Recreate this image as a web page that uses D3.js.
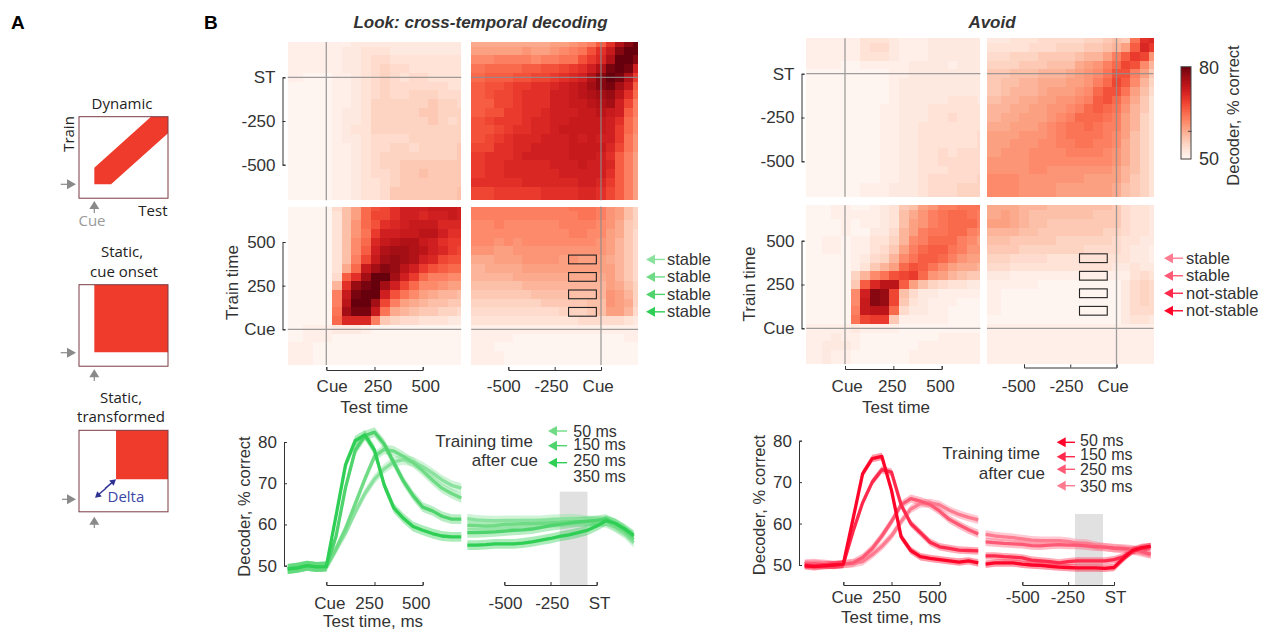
<!DOCTYPE html>
<html lang="en">
<head>
<meta charset="UTF-8">
<title>Cross-temporal decoding</title>
<style>
  body { margin: 0; background: #fff; }
  svg text { font-family: "Liberation Sans", Arial, sans-serif; fill: #333; }
  .tick text { font-size: 17px; }
  .schem text { font-family: "Open Sans", sans-serif; fill: #222; font-size: 15px; }
</style>
</head>
<body>
<script src="https://d3js.org/d3.v7.min.js"></script>
<script>
// cell edges in ms, relative to cue (test/train) or to ST
var testEdgesCue = [-200,-120,-70,-20,30,80,130,180,230,280,330,380,430,480,530,580,630,680,700];
var testEdgesST = [-700,-625,-575,-525,-475,-425,-375,-325,-275,-225,-175,-125,-75,-25,25,75,125,175,200];
var trainEdgesCue = [703,675,625,575,525,475,425,375,325,275,225,175,125,75,25,-25,-75,-125,-205];
var trainEdgesST = [202,175,125,75,25,-25,-75,-125,-175,-225,-275,-325,-375,-425,-475,-525,-575,-625,-703];

// decoder accuracy, % correct, rows from top to bottom
var lookSTCue = [
[51,51,51,51,51,51,52,52,52,52,52,52,52,52,52,52,52,52],
[51,51,51,51,51,52,52,53,53,53,52,52,52,52,52,52,52,52],
[51,51,51,51,51,52,52,53,54,54,53,53,53,53,53,53,53,53],
[51,51,51,51,51,52,52,53,54,55,54,54,53,53,53,53,53,53],
[51,50,50,50,51,51,52,53,54,55,54,53,54,54,53,53,53,53],
[50,50,50,50,51,51,52,53,54,55,54,54,54,54,54,54,53,53],
[50,50,50,50,51,51,52,53,54,55,54,54,55,55,55,54,54,54],
[50,50,50,50,51,51,52,53,55,55,55,55,55,55,56,55,55,54],
[50,50,50,50,51,52,52,53,55,55,55,55,55,56,56,55,55,55],
[50,50,50,50,51,52,52,53,55,55,55,55,55,55,56,55,54,55],
[50,50,50,50,51,52,53,53,55,55,55,55,55,55,55,55,55,55],
[50,50,50,50,51,52,52,53,54,54,54,54,55,55,55,55,55,55],
[50,50,50,50,51,51,52,53,54,54,55,55,54,55,55,55,55,56],
[50,50,50,50,51,51,52,53,54,55,55,55,55,55,55,55,55,56],
[50,50,50,50,51,51,52,53,54,55,55,56,56,56,56,56,56,56],
[50,50,50,50,51,51,52,53,54,54,55,56,56,57,56,56,56,56],
[50,50,50,50,51,51,52,53,53,54,55,56,56,56,56,56,56,56],
[50,50,50,50,51,51,52,53,53,54,56,56,56,56,56,56,56,57]];
var lookSTST = [
[59,59,59,59,59,59,59,59,60,60,61,62,63,66,70,75,78,80],
[60,60,60,60,60,61,60,60,61,62,63,64,67,70,73,78,80,80],
[62,62,63,63,63,63,62,63,63,64,64,67,69,71,75,80,80,78],
[64,65,65,65,65,66,66,67,67,68,69,70,72,75,79,80,79,72],
[65,66,66,66,67,67,68,68,69,70,71,72,75,78,80,79,75,69],
[66,67,67,68,69,69,70,70,71,72,73,74,76,78,79,76,73,66],
[66,67,68,68,69,70,70,70,72,72,73,74,75,76,77,74,70,65],
[66,66,68,68,69,70,70,70,72,72,73,73,74,75,76,72,68,63],
[66,67,67,69,69,70,70,71,72,72,72,73,73,74,73,72,66,63],
[67,68,69,69,69,70,71,71,72,72,73,73,73,73,72,70,65,62],
[67,67,68,69,70,70,71,71,72,73,73,73,73,73,72,69,65,62],
[67,68,69,70,71,71,71,72,72,72,73,72,73,72,72,69,64,61],
[68,68,70,70,71,71,72,72,72,72,73,73,73,73,71,68,64,61],
[69,70,70,70,71,72,72,72,72,72,73,73,73,72,70,66,63,60],
[69,70,70,71,71,71,71,71,72,72,72,73,72,72,71,66,63,60],
[69,70,70,71,71,71,71,71,71,72,72,72,72,72,70,66,63,60],
[70,70,70,70,70,71,71,71,71,71,71,72,72,71,69,66,63,60],
[68,68,69,69,69,69,69,70,70,70,70,71,71,70,68,66,63,60]];
var lookCueCue = [
[50,50,50,50,54,57,60,65,67,68,70,72,72,72,73,73,73,72],
[50,50,50,50,53,57,60,65,68,68,70,72,72,71,72,72,73,72],
[50,50,50,50,53,57,61,65,67,70,71,72,73,73,73,71,71,71],
[50,50,50,50,53,57,61,64,69,72,72,73,73,74,74,72,70,70],
[50,50,50,50,53,57,62,65,71,73,74,75,75,73,72,70,69,69],
[50,50,50,50,53,57,62,66,72,75,76,76,75,74,72,71,69,68],
[50,50,50,50,53,57,63,68,73,76,77,76,75,72,71,68,67,67],
[50,50,50,50,53,59,65,73,76,78,77,74,72,69,67,66,65,65],
[50,50,50,50,54,66,70,76,80,80,76,72,69,65,63,63,62,62],
[50,50,50,50,58,70,77,79,80,76,72,68,65,62,62,61,60,60],
[50,50,50,50,63,73,79,80,80,72,67,64,62,60,59,58,58,57],
[50,50,50,50,63,74,80,80,76,68,63,60,59,58,57,57,56,56],
[50,50,50,50,64,76,79,79,73,64,59,58,57,56,56,55,55,54],
[50,50,50,50,65,71,71,71,63,56,55,54,54,53,53,53,52,52],
[50,51,51,51,52,52,52,51,50,50,50,50,50,50,50,50,50,50],
[50,51,51,51,50,50,50,50,50,50,50,50,50,50,50,50,50,50],
[51,51,50,50,50,50,50,50,50,50,50,50,50,50,50,50,50,50],
[51,51,50,50,50,50,50,50,50,50,50,50,50,50,50,50,50,50]];
var lookCueST = [
[63,63,63,63,63,63,63,63,63,63,64,64,64,63,61,60,57,55],
[63,63,63,63,63,63,63,63,63,63,63,64,64,63,61,60,57,55],
[62,62,63,62,62,62,62,62,62,63,63,63,63,62,61,59,56,55],
[62,62,62,62,62,62,62,62,62,62,63,63,62,62,60,59,56,54],
[62,62,61,62,61,62,62,62,62,62,62,62,62,61,60,58,56,54],
[61,61,60,60,61,61,61,61,61,61,61,61,61,61,60,58,56,54],
[59,59,60,60,60,61,61,61,61,60,61,60,60,60,59,58,56,54],
[58,59,59,59,59,60,60,60,60,60,60,60,60,60,60,58,56,54],
[58,58,58,58,59,59,59,59,59,59,59,59,59,59,60,58,56,54],
[57,57,57,57,57,58,58,58,58,58,58,58,58,58,60,59,57,55],
[56,56,56,56,56,56,57,57,57,57,57,57,57,58,61,60,58,55],
[55,55,55,55,55,55,55,56,56,56,56,56,57,57,61,60,59,55],
[54,54,54,54,54,54,54,54,54,55,55,55,56,57,60,60,58,54],
[53,53,53,53,53,53,53,53,53,53,53,54,54,54,54,54,53,52],
[51,51,51,51,51,51,51,51,51,51,51,51,51,51,51,51,51,51],
[51,51,51,51,50,50,50,50,50,50,50,50,50,50,50,50,51,51],
[51,51,50,50,50,50,50,50,50,50,50,50,50,50,50,50,50,50],
[51,51,51,50,50,50,50,50,50,50,50,50,50,50,50,50,50,50]];
var avoidSTCue = [
[51,51,51,51,51,53,53,53,52,51,51,51,52,52,52,52,52,52],
[51,51,51,51,51,53,54,54,52,51,51,51,52,52,52,52,52,52],
[51,51,51,51,51,53,53,53,52,51,51,51,52,52,52,52,52,52],
[51,51,51,50,50,51,51,51,51,51,52,52,52,52,51,52,52,52],
[50,50,50,50,50,50,50,50,51,51,52,52,52,52,52,52,52,52],
[50,50,50,50,50,50,50,50,51,52,52,52,52,52,52,52,52,52],
[50,50,50,50,50,50,50,50,51,52,52,52,52,52,52,52,52,52],
[50,50,50,50,50,50,50,50,51,52,52,52,52,52,53,53,53,52],
[50,50,50,50,50,50,50,51,51,52,52,52,53,53,53,53,53,53],
[50,50,50,50,50,50,50,51,51,52,52,52,53,53,54,53,53,53],
[50,50,50,50,50,50,50,51,51,52,52,53,53,53,53,53,53,53],
[50,50,50,50,50,50,50,51,51,52,52,53,53,53,53,53,53,54],
[50,50,50,50,50,50,50,51,51,52,52,53,53,53,53,53,53,54],
[50,50,50,50,50,50,50,51,51,52,52,53,53,54,53,54,54,54],
[50,50,50,50,50,50,50,51,51,52,52,53,53,54,54,54,54,54],
[50,50,50,50,50,50,50,51,51,52,52,53,53,53,54,54,54,54],
[50,50,50,50,50,50,50,51,51,52,52,53,54,54,54,54,54,55],
[50,50,50,50,50,51,51,51,52,52,52,53,54,54,54,55,55,55]];
var avoidSTST = [
[52,52,53,53,53,54,54,54,54,54,55,55,56,57,56,64,70,71],
[53,53,53,53,54,54,54,55,55,55,56,56,57,58,60,66,71,69],
[54,54,55,55,55,56,56,56,56,57,58,58,60,63,66,69,68,61],
[55,55,55,56,56,56,57,57,57,59,60,61,63,65,68,67,62,58],
[56,56,57,57,57,58,58,58,59,60,61,62,64,67,67,63,60,56],
[56,57,57,58,58,59,59,59,60,60,61,63,65,68,66,62,58,55],
[56,57,58,58,58,59,60,60,60,61,62,65,67,67,64,60,57,54],
[57,58,58,59,59,60,60,61,61,62,63,66,67,65,62,59,56,53],
[58,58,59,59,60,60,61,61,62,63,65,66,65,64,61,58,56,53],
[58,59,59,60,60,60,61,62,63,65,65,65,64,63,60,58,55,53],
[59,59,60,60,60,61,62,63,64,64,65,64,63,63,60,58,55,53],
[60,60,60,61,61,61,62,63,64,64,64,64,63,62,60,57,55,53],
[60,60,61,61,61,62,62,63,63,64,64,63,63,62,59,57,55,53],
[60,61,61,61,62,62,62,62,63,63,63,63,62,61,59,57,55,53],
[61,61,61,61,62,62,62,62,62,62,62,62,62,61,59,57,55,53],
[61,61,61,61,62,62,61,61,61,61,61,61,61,60,58,57,55,53],
[62,62,62,61,61,61,61,61,61,61,60,60,60,60,58,56,55,53],
[62,62,62,61,61,61,61,60,60,60,60,60,60,59,57,56,55,53]];
var avoidCueCue = [
[50,50,51,51,50,50,51,52,53,56,57,60,61,63,63,64,64,64],
[50,50,51,51,51,51,51,52,53,57,59,61,63,64,65,65,64,63],
[50,50,50,51,50,51,51,52,53,57,60,61,63,64,65,65,65,63],
[50,50,50,51,50,50,52,52,54,58,60,63,64,64,65,65,63,62],
[50,51,51,50,51,51,53,53,55,58,62,63,65,65,65,63,62,60],
[50,51,51,50,51,51,53,54,56,60,63,65,66,66,64,63,61,61],
[50,50,50,50,51,52,54,55,58,62,64,66,66,65,63,61,60,60],
[50,50,50,50,51,53,56,58,60,65,67,66,64,62,60,59,59,58],
[50,50,50,50,55,58,62,64,67,68,69,65,61,60,58,57,56,56],
[50,50,50,50,56,66,71,74,74,66,60,57,55,54,53,53,52,52],
[50,50,50,50,62,72,78,77,68,57,54,52,52,51,51,51,51,51],
[50,50,50,50,62,73,78,77,68,56,53,52,51,51,51,50,50,50],
[50,50,50,50,63,73,74,74,65,54,52,52,51,51,50,50,50,50],
[50,50,50,50,64,68,69,69,56,51,51,51,51,51,50,50,50,50],
[51,51,51,51,52,51,51,51,51,50,50,50,50,50,50,50,50,50],
[51,51,52,51,51,50,50,50,50,50,50,50,50,51,51,51,51,51],
[51,52,52,52,51,50,50,50,50,50,50,51,51,51,51,51,51,51],
[51,52,51,51,50,50,50,50,50,50,51,51,51,51,51,51,51,51]];
var avoidCueST = [
[59,59,59,58,58,58,57,57,57,57,57,57,57,56,54,53,53,52],
[59,60,59,58,57,57,57,57,57,57,57,56,56,56,54,53,53,52],
[60,60,59,58,57,57,56,56,56,56,56,56,56,56,54,53,53,52],
[58,58,58,57,57,56,56,56,56,56,56,56,55,55,54,53,53,52],
[57,57,56,56,56,56,56,55,55,55,55,55,55,54,53,53,52,52],
[56,56,56,55,55,55,55,55,55,55,54,54,54,54,53,52,52,51],
[55,55,54,54,54,54,53,53,53,53,53,53,53,53,53,52,52,51],
[54,54,53,53,53,53,53,53,53,53,53,53,53,52,52,53,52,52],
[52,52,51,51,51,51,51,51,51,51,51,51,51,51,51,53,54,53],
[51,51,51,51,51,50,50,50,50,50,50,50,50,50,52,54,55,54],
[51,50,50,50,50,50,50,50,50,50,50,50,50,50,52,54,55,54],
[51,50,50,50,50,50,50,50,50,50,50,50,50,50,52,54,55,54],
[51,50,50,50,50,50,50,50,50,50,50,50,50,50,52,54,54,54],
[50,50,50,50,50,50,50,50,50,50,50,50,50,50,52,53,53,52],
[51,51,51,51,51,51,51,51,51,51,51,51,51,51,51,51,51,51],
[51,51,51,51,51,51,51,51,51,51,51,51,51,51,51,51,51,51],
[51,51,51,51,51,51,51,51,51,51,51,51,51,51,51,51,51,51],
[51,51,51,51,51,51,51,51,51,51,51,51,51,51,51,51,51,51]];

// time courses
var timesCue = [-200,-150,-100,-50,0,50,100,150,200,250,300,350,400,450,500,550,600,650,700];
var timesST = [-700,-650,-600,-550,-500,-450,-400,-350,-300,-250,-200,-150,-100,-50,0,50,100,150,200];

var lookCurvesCue = [
[49.2,49.5,50,49.7,49.8,62,74.5,80.3,81.7,78,69.6,64,61.5,59.5,58.6,57.8,57.2,57,57],
[49.2,49.5,50,49.7,49.8,57,69,78,81.5,82.4,79.5,75,70.5,67,64.2,63.3,62,61.3,61.3],
[49.2,49.5,50,49.7,49.8,54,59,65,71,76.5,78.2,77.8,76.5,75,73,70.8,68.8,67.5,66.4],
[49.2,49.5,50,49.7,49.8,54,58,63,67.5,71,73.5,75.2,75.7,75.2,74,72.5,70.8,69.5,68.8]];
var lookCurvesST = [
[55,55,55.1,55.3,55.3,55.3,55.5,55.8,56.2,56.6,57.1,57.5,58,58.6,59.6,60.9,60.3,59,57.4],
[58,58,58.1,58.2,58.4,58.6,58.7,58.9,59.3,59.7,60,60.3,60.6,60.8,61,61.3,60.2,58.8,57],
[59.8,59.7,59.6,59.7,60,60.1,60.2,60.2,60.3,60.4,60.5,60.7,60.7,60.7,60.7,60.8,59.5,58.3,56.3],
[61.4,61.1,61,60.9,61,61,61,61,61,61.2,61.3,61.4,61.3,61,60.8,60.4,59.3,57.8,55.6]];
var avoidCurvesCue = [
[49.8,49.6,49.8,50,50.2,61,72,75.7,76.2,68,56.8,53.5,52,51.6,51.3,51,50.7,51,50.5],
[50,49.8,50,50,50.2,58,65,70,73,72.4,64.5,60,57.8,55.5,54.4,54,53.6,53.5,53.4],
[50.2,50.3,50.1,50,50.2,50.5,51.8,54,57,60.5,64.5,66,65.4,64.6,63,61,59.7,58.5,57.5],
[50.4,50.5,50.3,50,50.2,50.4,50.8,52.5,54.5,57,60.5,63.5,64.8,65,64.5,63.2,62.2,61.5,60.9]];
var avoidCurvesST = [
[50.2,50.5,50.5,50.5,50.2,50,49.9,49.7,49.5,49.4,49.3,49.3,49.3,49.2,49.4,51.5,53.5,54.2,54.5],
[52.2,52.2,52,51.9,51.7,51.2,51,50.8,50.5,50.8,51,51,51,51,51.3,52,53.3,54,54.5],
[55.6,55.4,55.2,55.1,55,54.7,54.6,54.8,54.9,54.8,54.8,54.6,54.4,54.3,54.1,54,53.8,53.3,52.6],
[57.4,57,56.8,56.6,56.3,56,55.9,55.9,55.9,55.7,55.3,55.2,54.7,54.3,54,53.8,53.5,53,52.5]];
var lookSem = [1.2, 1.2, 1.2, 1.2];
var avoidSem = [0.9, 0.9, 1, 1];

var lookColors = ["#2fcf55", "#4fd46d", "#6fdb85", "#8be29e"];
var avoidColors = ["#ff0529", "#ff2a4c", "#ff5a75", "#ff7b90"];

var lookWindows = [400, 300, 200, 100];
var lookStates = ["stable", "stable", "stable", "stable"];
var avoidStates = ["stable", "stable", "not-stable", "not-stable"];
var legendMs = ["50 ms", "150 ms", "250 ms", "350 ms"];

var svg = d3.select("body").append("svg").attr("width", 1271).attr("height", 633)
  .style("display", "block");

var color = d3.scaleSequential(d3.interpolateReds).domain([50, 80]);

function heat(matrix, xs, ys, xEdges, yEdges) {
  var g = svg.append("g").attr("shape-rendering", "crispEdges");
  matrix.forEach(function(row, r) {
    row.forEach(function(v, c) {
      g.append("rect")
        .attr("x", xs(xEdges[c]))
        .attr("y", ys(yEdges[r]))
        .attr("width", xs(xEdges[c + 1]) - xs(xEdges[c]))
        .attr("height", ys(yEdges[r + 1]) - ys(yEdges[r]))
        .attr("fill", color(v));
    });
  });
  // reference lines at the alignment event
  g = svg.append("g").attr("stroke", "#8e8e8e").attr("stroke-width", 1.3).attr("opacity", 0.85);
  g.append("line").attr("x1", xs(0)).attr("x2", xs(0))
    .attr("y1", ys(yEdges[0])).attr("y2", ys(yEdges[yEdges.length - 1]));
  g.append("line").attr("y1", ys(0)).attr("y2", ys(0))
    .attr("x1", xs(xEdges[0])).attr("x2", xs(xEdges[xEdges.length - 1]));
}

function styleAxis(g) {
  g.selectAll(".domain").attr("stroke", "#333").attr("stroke-width", 1);
  g.selectAll(".tick line").attr("stroke", "#333");
  g.selectAll(".tick text").attr("fill", "#333");
  return g;
}

// labels sit a little off their ticks in the reference, hence the shifts
function xAxis(scale, y, vals, labels, pad, shifts) {
  var ax = d3.axisBottom(scale).tickValues(vals).tickSize(-3).tickSizeOuter(-3).tickPadding(pad)
    .tickFormat(function(d, i) { return labels[i]; });
  var g = styleAxis(svg.append("g").attr("transform", "translate(0," + y + ")").call(ax));
  g.selectAll(".tick text").attr("dx", function(d, i) { return shifts[i]; });
}

function yAxis(scale, x, vals, labels) {
  var ax = d3.axisLeft(scale).tickValues(vals).tickSize(-3).tickSizeOuter(-3).tickPadding(7)
    .tickFormat(function(d, i) { return labels[i]; });
  styleAxis(svg.append("g").attr("transform", "translate(" + x + ",0)").call(ax));
}

function label(x, y, txt, anchor, size) {
  return svg.append("text").attr("x", x).attr("y", y).attr("text-anchor", anchor || "middle")
    .attr("font-size", size || 17).text(txt);
}

function vlabel(x, y, txt, size) {
  return svg.append("text").attr("transform", "translate(" + x + "," + y + ") rotate(-90)")
    .attr("text-anchor", "middle").attr("font-size", size || 17).text(txt);
}

function arrow(parent, x1, y1, x2, y2, col, len, wid, sw) {
  var a = Math.atan2(y2 - y1, x2 - x1), ca = Math.cos(a), sa = Math.sin(a);
  parent.append("line").attr("x1", x1).attr("y1", y1)
    .attr("x2", x2 - ca * len * 0.8).attr("y2", y2 - sa * len * 0.8)
    .attr("stroke", col).attr("stroke-width", sw || 1.3);
  parent.append("path").attr("fill", col).attr("d", d3.line()([
    [x2, y2],
    [x2 - ca * len - sa * wid, y2 - sa * len + ca * wid],
    [x2 - ca * len + sa * wid, y2 - sa * len - ca * wid]]) + "Z");
}

function curves(data, times, xs, ys, colors, sem) {
  var area = d3.area().x(function(d, i) { return xs(times[i]); });
  var line = d3.line().x(function(d, i) { return xs(times[i]); }).y(function(d) { return ys(d); });
  // lightest drawn first, strongest on top
  d3.range(data.length - 1, -1, -1).forEach(function(k) {
    area.y0(function(d) { return ys(d - sem[k]); }).y1(function(d) { return ys(d + sem[k]); });
    svg.append("path").attr("d", area(data[k])).attr("fill", colors[k]).attr("opacity", 0.4);
  });
  d3.range(data.length - 1, -1, -1).forEach(function(k) {
    svg.append("path").attr("d", line(data[k])).attr("fill", "none")
      .attr("stroke", colors[k]).attr("stroke-width", 3.3).attr("stroke-linejoin", "round");
  });
}

// ---- Look column ----
var lookXCue = d3.scaleLinear().domain([0, 500]).range([326.3, 422.7]);
var lookXST = d3.scaleLinear().domain([-500, 0]).range([508.3, 601]);
var lookYST = d3.scaleLinear().domain([-500, 0]).range([164.7, 77.3]);
var lookYCue = d3.scaleLinear().domain([0, 500]).range([329.3, 242]);
heat(lookSTCue, lookXCue, lookYST, testEdgesCue, trainEdgesST);
heat(lookSTST, lookXST, lookYST, testEdgesST, trainEdgesST);
heat(lookCueCue, lookXCue, lookYCue, testEdgesCue, trainEdgesCue);
heat(lookCueST, lookXST, lookYCue, testEdgesST, trainEdgesCue);
yAxis(lookYST, 282.5, [-500, -250, 0], ["-500", "-250", "ST"]);
yAxis(lookYCue, 282.5, [0, 250, 500], ["Cue", "250", "500"]);
xAxis(lookXCue, 370, [0, 250, 500], ["Cue", "250", "500"], 10.3, [5.4, 3, 2.6]);
xAxis(lookXST, 370, [-500, -250, 0], ["-500", "-250", "Cue"], 10.3, [-5, -3.7, -3.3]);
label(374.3, 412.7, "Test time");
vlabel(238, 282.5, "Train time");

// ---- Avoid column ----
var avoidXCue = d3.scaleLinear().domain([0, 500]).range([845, 941.7]);
var avoidXST = d3.scaleLinear().domain([-500, 0]).range([1024, 1116.5]);
var avoidYST = d3.scaleLinear().domain([-500, 0]).range([161.3, 73.7]);
var avoidYCue = d3.scaleLinear().domain([0, 500]).range([328.3, 240.7]);
heat(avoidSTCue, avoidXCue, avoidYST, testEdgesCue, trainEdgesST);
heat(avoidSTST, avoidXST, avoidYST, testEdgesST, trainEdgesST);
heat(avoidCueCue, avoidXCue, avoidYCue, testEdgesCue, trainEdgesCue);
heat(avoidCueST, avoidXST, avoidYCue, testEdgesST, trainEdgesCue);
yAxis(avoidYST, 801.5, [-500, -250, 0], ["-500", "-250", "ST"]);
yAxis(avoidYCue, 801.5, [0, 250, 500], ["Cue", "250", "500"]);
xAxis(avoidXCue, 369, [0, 250, 500], ["Cue", "250", "500"], 11.3, [1.7, -1.6, -1.7]);
xAxis(avoidXST, 367.5, [-500, -250, 0], ["-500", "-250", "Cue"], 12.8, [-5.7, -4.3, -3.8]);
label(896, 412.7, "Test time");
vlabel(755, 284, "Train time");

// training windows compared in the stability test
function windows(xs, ys, t0, t1, states, colors, tipX, labelX) {
  lookWindows.forEach(function(t, i) {
    svg.append("rect").attr("x", xs(t0)).attr("width", xs(t1) - xs(t0))
      .attr("y", ys(t + 25)).attr("height", ys(t - 25) - ys(t + 25))
      .attr("fill", "none").attr("stroke", "#222").attr("stroke-width", 1.1);
    arrow(svg, tipX + 19, ys(t), tipX, ys(t), colors[3 - i], 9, 5, 1.4);
    label(labelX, ys(t) + 5.5, states[i], "start", 16.5);
  });
}
windows(lookXST, lookYCue, -175, -25, lookStates, lookColors, 646, 667);
windows(avoidXST, avoidYCue, -200, -50, avoidStates, avoidColors, 1164, 1186);

// ---- colour bar ----
var barY = d3.scaleLinear().domain([50, 80]).range([159, 66.7]);
var barG = svg.append("g").attr("shape-rendering", "crispEdges");
d3.range(50, 80, 0.5).forEach(function(v) {
  barG.append("rect").attr("x", 1181).attr("width", 10).attr("y", barY(v + 0.5))
    .attr("height", barY(v) - barY(v + 0.5) + 0.5).attr("fill", color(v));
});
svg.append("rect").attr("x", 1181).attr("y", barY(80)).attr("width", 10).attr("height", barY(50) - barY(80))
  .attr("fill", "none").attr("stroke", "#444").attr("stroke-width", 1);
svg.append("line").attr("x1", 1188).attr("x2", 1191.5).attr("y1", barY(59)).attr("y2", barY(59))
  .attr("stroke", "#444");
label(1199, 74, "80", "start", 18);
label(1199, 165, "50", "start", 18);
vlabel(1239, 115.5, "Decoder, % correct", 16.5);

// ---- time courses ----
var lookCurveY = d3.scaleLinear().domain([50, 80]).range([565.7, 442]);
var lookLineCue = d3.scaleLinear().domain([0, 500]).range([326.3, 422.7]);
var lookLineST = d3.scaleLinear().domain([-500, 0]).range([504.3, 596.7]);
svg.append("rect").attr("x", lookLineST(-200)).attr("width", lookLineST(-50) - lookLineST(-200))
  .attr("y", 491.7).attr("height", 93.3).attr("fill", "#e1e1e1");
curves(lookCurvesCue, timesCue, lookLineCue, lookCurveY, lookColors, lookSem);
curves(lookCurvesST, timesST, lookLineST, lookCurveY, lookColors, lookSem);
yAxis(lookCurveY, 284, [50, 60, 70, 80], ["50", "60", "70", "80"]);
xAxis(lookLineCue, 585, [0, 250, 500], ["Cue", "250", "500"], 12, [3, -5.5, -7]);
xAxis(lookLineST, 585, [-500, -250, 0], ["-500", "-250", "ST"], 12, [0.7, 1.2, 2.3]);
label(373, 627, "Test time, ms");
vlabel(250, 506.5, "Decoder, % correct", 16.5);

var avoidCurveY = d3.scaleLinear().domain([50, 80]).range([565, 440.7]);
var avoidLineCue = d3.scaleLinear().domain([0, 500]).range([843.3, 939.7]);
var avoidLineST = d3.scaleLinear().domain([-500, 0]).range([1022.3, 1114]);
svg.append("rect").attr("x", avoidLineST(-213)).attr("width", avoidLineST(-60) - avoidLineST(-213))
  .attr("y", 514).attr("height", 71).attr("fill", "#e1e1e1");
curves(avoidCurvesCue, timesCue, avoidLineCue, avoidCurveY, avoidColors, avoidSem);
curves(avoidCurvesST, timesST, avoidLineST, avoidCurveY, avoidColors, avoidSem);
yAxis(avoidCurveY, 799, [50, 60, 70, 80], ["50", "60", "70", "80"]);
xAxis(avoidLineCue, 585, [0, 250, 500], ["Cue", "250", "500"], 6, [3.4, -5.5, -7.4]);
xAxis(avoidLineST, 585, [-500, -250, 0], ["-500", "-250", "ST"], 6, [0, -0.8, 1]);
label(891, 623, "Test time, ms");
vlabel(765, 505, "Decoder, % correct", 16.5);

// legends
label(533, 446.7, "Training time", "end");
label(538, 465.7, "after cue", "end");
[436.7, 450, 466, 481.7].forEach(function(y, i) { label(573.3, y, legendMs[i], "start", 16); });
[431, 445.7, 462.7].forEach(function(y, i) {
  arrow(svg, 567, y, 548, y, lookColors[2 - i], 9, 5, 1.4);
});
label(1040, 459.3, "Training time", "end");
label(1045, 479.3, "after cue", "end");
[446, 460, 475, 491.7].forEach(function(y, i) { label(1080, y, legendMs[i], "start", 16); });
[442.3, 456.7, 469.3, 485.7].forEach(function(y, i) {
  arrow(svg, 1075, y, 1056.7, y, avoidColors[i], 9, 5, 1.4);
});

// titles
label(480.5, 28, "Look: cross-temporal decoding", "middle", 17).attr("font-weight", "bold").attr("font-style", "italic");
label(992, 28, "Avoid", "middle", 17).attr("font-weight", "bold").attr("font-style", "italic");
label(11, 29, "A", "start", 19).attr("font-weight", "bold").style("fill", "#000");
label(204, 29, "B", "start", 19).attr("font-weight", "bold").style("fill", "#000");

// ---- panel A schematics, unit square inside each box ----
var schemRed = "#ef3b2c", schemBorder = "#7a3b42", schemGrey = "#8a8a8a", schemBlue = "#2e3192";
var dynamicShape = [[.172,.625],[.809,0],[1,0],[1,.204],[.36,.829],[.172,.829]];
var onsetShape = [[.172,0],[1,0],[1,.83],[.172,.83]];
var transformedShape = [[.416,0],[1,0],[1,.6],[.416,.6]];
var schem = svg.append("g").attr("class", "schem");

function schematic(top, shape) {
  var sx = d3.scaleLinear().domain([0, 1]).range([79, 168]);
  var sy = d3.scaleLinear().domain([0, 1]).range([top, top + 81.5]);
  schem.append("path").attr("fill", schemRed)
    .attr("d", d3.line().x(function(d) { return sx(d[0]); }).y(function(d) { return sy(d[1]); })(shape) + "Z");
  schem.append("rect").attr("x", sx(0)).attr("y", sy(0)).attr("width", 89).attr("height", 81.5)
    .attr("fill", "none").attr("stroke", schemBorder).attr("stroke-width", 1);
}
function schemText(x, y, txt, anchor) {
  return schem.append("text").attr("x", x).attr("y", y).attr("text-anchor", anchor || "middle").text(txt);
}

schematic(116.7, dynamicShape);
schematic(284.7, onsetShape);
schematic(430.3, transformedShape);
schemText(122, 109, "Dynamic");
schemText(167.5, 216, "Test", "end");
schemText(92, 226, "Cue").style("fill", "#9a9a9a");
schem.append("text").attr("transform", "translate(74,134) rotate(-90)").attr("text-anchor", "middle").text("Train");
schemText(122, 257, "Static,");
schemText(124, 277, "cue onset");
schemText(121, 403, "Static,");
schemText(121, 422, "transformed");
schemText(107.5, 502, "Delta", "start").style("fill", "#3a45a8");

[[60.7, 76, 184.3], [60.7, 76, 352.7], [62, 76, 499.3]].forEach(function(a) {
  arrow(schem, a[0], a[2], a[1], a[2], schemGrey, 9, 5, 1.2);
});
[[213, 201], [381, 369.3], [528, 516.7]].forEach(function(a) {
  arrow(schem, 94.3, a[0], 94.3, a[1], schemGrey, 8, 5, 1.2);
});
arrow(schem, 105, 488.6, 116, 479.3, schemBlue, 6, 3.5, 1.4);
arrow(schem, 106, 488.2, 95, 497.7, schemBlue, 6, 3.5, 1.4);
</script>
</body>
</html>
